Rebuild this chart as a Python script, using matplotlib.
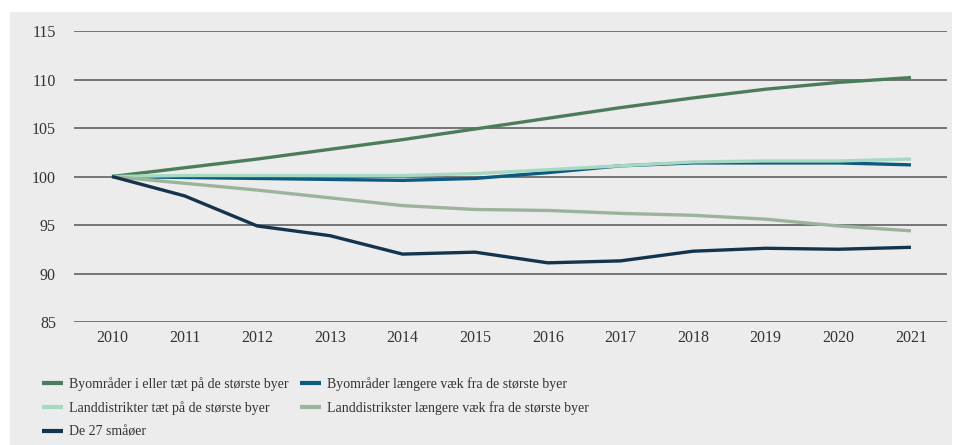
import matplotlib.pyplot as plt
from matplotlib.patches import Rectangle

# Data (indeks 2010 = 100)
years = [2010, 2011, 2012, 2013, 2014, 2015, 2016, 2017, 2018, 2019, 2020, 2021]
by_naer = [100, 100.9, 101.8, 102.8, 103.8, 104.9, 106.0, 107.1, 108.1, 109.0, 109.7, 110.2]
by_fjern = [100, 99.9, 99.8, 99.7, 99.6, 99.8, 100.4, 101.1, 101.4, 101.4, 101.4, 101.2]
land_naer = [100, 100.1, 100.1, 100.1, 100.1, 100.3, 100.7, 101.1, 101.5, 101.6, 101.6, 101.8]
land_fjern = [100, 99.3, 98.6, 97.8, 97.0, 96.6, 96.5, 96.2, 96.0, 95.6, 94.9, 94.4]
smaaoer = [100, 98.0, 94.9, 93.9, 92.0, 92.2, 91.1, 91.3, 92.3, 92.6, 92.5, 92.7]

labels = ['Byområder i eller tæt på de største byer',
          'Byområder længere væk fra de største byer',
          'Landdistrikter tæt på de største byer',
          'Landdistrikster længere væk fra de største byer',
          'De 27 småøer']
colors = ['#4b7d5a', '#0d5a80', '#a6d9c1', '#9db49c', '#14344d']

plt.rcParams['font.family'] = ['Liberation Serif', 'DejaVu Serif']

fig = plt.figure(figsize=(9.62, 4.45), dpi=100)
fig.patch.set_facecolor('white')
fig.patches.append(Rectangle((10 / 962, 0), 942 / 962, 433 / 445,
                             transform=fig.transFigure, facecolor='#ececec',
                             edgecolor='none', zorder=-10))

ax = fig.add_axes([74 / 962, 123 / 445, 873 / 962, 291 / 445])
ax.set_zorder(2)
ax.set_facecolor('none')

series = [by_naer, by_fjern, land_naer, land_fjern, smaaoer]
lines = []
for s, c, lab in zip(series, colors, labels):
    ln, = ax.plot(years, s, color=c, lw=2.4, label=lab, solid_capstyle='butt', zorder=3)
    lines.append(ln)

ax.set_xlim(2009.477, 2021.496)
ax.set_ylim(85, 115)
ax.set_yticks(range(85, 116, 5))
ax.set_xticks(years)
for y in range(85, 116, 5):
    ax.axhline(y, color='#555555', lw=1.1, zorder=1)
for sp in ax.spines.values():
    sp.set_visible(False)
ax.tick_params(length=0, labelsize=11.5, colors='#333333')
ax.tick_params(axis='y', pad=13)
ax.tick_params(axis='x', pad=6)

# Legende i to kolonner
kw = dict(loc='upper left', frameon=False, fontsize=10, handlelength=1.5,
          handletextpad=0.45, labelspacing=0.75, borderpad=0, borderaxespad=0)
leg1 = fig.legend([lines[0], lines[2], lines[4]], [labels[0], labels[2], labels[4]],
                  bbox_to_anchor=(42 / 962, 1 - 377 / 445), **kw)
leg2 = fig.legend([lines[1], lines[3]], [labels[1], labels[3]],
                  bbox_to_anchor=(300 / 962, 1 - 377 / 445), **kw)
for leg in (leg1, leg2):
    for t in leg.get_texts():
        t.set_color('#333333')
    for h in leg.legend_handles:
        h.set_linewidth(3)

fig.savefig('out.png', dpi=100)
